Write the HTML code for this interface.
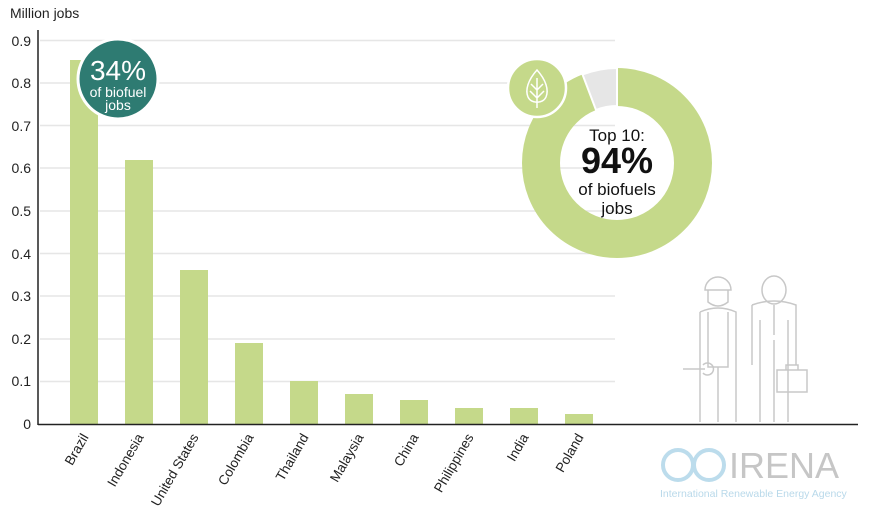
<!DOCTYPE html>
<html><head><style>
body{margin:0;background:#fff;font-family:"Liberation Sans",sans-serif;}
</style></head><body>
<svg width="872" height="520" xmlns="http://www.w3.org/2000/svg" font-family="Liberation Sans, sans-serif">
<text x="10" y="18" font-size="14" fill="#222">Million jobs</text>
<g stroke="#e6e6e6" stroke-width="1.5">
<line x1="40" x2="615" y1="40.5" y2="40.5"/><line x1="40" x2="615" y1="83" y2="83"/>
<line x1="40" x2="615" y1="125.5" y2="125.5"/><line x1="40" x2="615" y1="168" y2="168"/>
<line x1="40" x2="615" y1="211" y2="211"/><line x1="40" x2="615" y1="253.5" y2="253.5"/>
<line x1="40" x2="615" y1="296" y2="296"/><line x1="40" x2="615" y1="339" y2="339"/>
<line x1="40" x2="615" y1="381.5" y2="381.5"/>
</g>
<g font-size="14" fill="#222" text-anchor="end">
<text x="31" y="46">0.9</text><text x="31" y="88">0.8</text><text x="31" y="131">0.7</text>
<text x="31" y="173">0.6</text><text x="31" y="216">0.5</text><text x="31" y="259">0.4</text>
<text x="31" y="301">0.3</text><text x="31" y="344">0.2</text><text x="31" y="386">0.1</text>
<text x="31" y="429">0</text>
</g>
<g fill="#c5d98a">
<rect x="70" y="60" width="28" height="364"/><rect x="125" y="160" width="28" height="264"/>
<rect x="180" y="270" width="28" height="154"/><rect x="235" y="343" width="28" height="81"/>
<rect x="290" y="381" width="28" height="43"/><rect x="345" y="394" width="28" height="30"/>
<rect x="400" y="400" width="28" height="24"/><rect x="455" y="408" width="28" height="16"/>
<rect x="510" y="408" width="28" height="16"/><rect x="565" y="414" width="28" height="10"/>
</g>
<line x1="38" y1="30" x2="38" y2="425" stroke="#222" stroke-width="1.5"/>
<line x1="38" y1="424.5" x2="858" y2="424.5" stroke="#222" stroke-width="1.5"/>
<g font-size="13.5" fill="#222" text-anchor="end">
<text transform="translate(89,437) rotate(-60)">Brazil</text>
<text transform="translate(144,437) rotate(-60)">Indonesia</text>
<text transform="translate(199,437) rotate(-60)">United States</text>
<text transform="translate(254,437) rotate(-60)">Colombia</text>
<text transform="translate(309,437) rotate(-60)">Thailand</text>
<text transform="translate(364,437) rotate(-60)">Malaysia</text>
<text transform="translate(419,437) rotate(-60)">China</text>
<text transform="translate(474,437) rotate(-60)">Philippines</text>
<text transform="translate(529,437) rotate(-60)">India</text>
<text transform="translate(584,437) rotate(-60)">Poland</text>
</g>
<circle cx="118" cy="79" r="40" fill="#2e7b72" stroke="#fff" stroke-width="3"/>
<text x="118" y="80" font-size="28" fill="#fff" text-anchor="middle">34%</text>
<text x="118" y="97" font-size="14" fill="#fff" text-anchor="middle">of biofuel</text>
<text x="118" y="110" font-size="14" fill="#fff" text-anchor="middle">jobs</text>
<circle cx="617" cy="163" r="76" fill="none" stroke="#c5d98a" stroke-width="38"/>
<path d="M617 68 A95 95 0 0 0 582.5 74.5 L596 110 A57 57 0 0 1 617 106 Z" fill="#e6e6e6" stroke="#fff" stroke-width="2"/>
<circle cx="537" cy="88" r="29" fill="#c5d98a" stroke="#fff" stroke-width="2.5"/>
<g fill="none" stroke="#fff" stroke-width="1.5">
<path d="M537 70 C528 80 525 90 528 97 C531 104 543 104 546 97 C549 90 546 80 537 70 Z"/>
<path d="M537 78 V108 M537 90 L531 84 M537 90 L543 84 M537 98 L530 91 M537 98 L544 91"/>
</g>
<text x="617" y="141" font-size="17" fill="#111" text-anchor="middle">Top 10:</text>
<text x="617" y="173" font-size="36" font-weight="bold" fill="#111" text-anchor="middle">94%</text>
<text x="617" y="195" font-size="17" fill="#111" text-anchor="middle">of biofuels</text>
<text x="617" y="214" font-size="17" fill="#111" text-anchor="middle">jobs</text>
<g fill="none" stroke="#c8c8c8" stroke-width="1.5">
<path d="M705 290 a13 13 0 0 1 26 0 z M708 290 v12 q10 8 20 0 v-12"/>
<path d="M700 312 q18-8 36 0 v110 M700 312 v110 M708 312 v55 h20 v-55 M718 367 v55"/>
<path d="M683 369 h22 m-2 -4 a6 6 0 1 1 0 8"/>
<path d="M762 290 a12 14 0 1 1 24 0 a12 14 0 1 1 -24 0 z"/>
<path d="M752 305 q22-8 44 0 v60 M752 305 v60 M760 320 v102 M788 320 v102 M774 305 v30 M774 340 v82"/>
<rect x="777" y="370" width="30" height="22"/><path d="M786 370 v-5 h12 v5"/>
</g>
<circle cx="678" cy="465" r="15" fill="none" stroke="#bcdcec" stroke-width="4"/>
<circle cx="709" cy="465" r="15" fill="none" stroke="#bcdcec" stroke-width="4"/>
<text x="729" y="478" font-size="36" fill="#c6c6c6">IRENA</text>
<text x="660" y="497" font-size="10.5" fill="#b9d9ea">International Renewable Energy Agency</text>
</svg>
</body></html>
